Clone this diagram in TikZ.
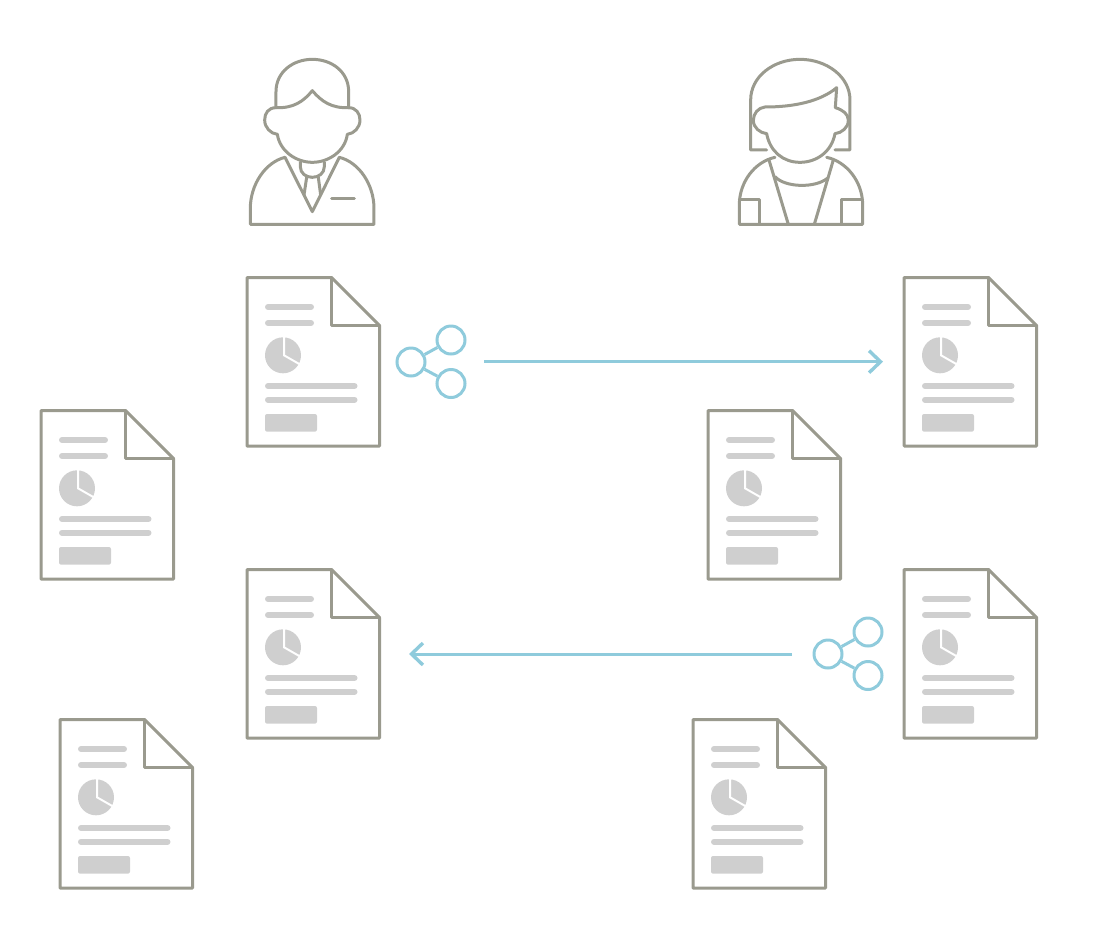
\documentclass[tikz,border=0pt]{standalone}
\usetikzlibrary{arrows.meta}
\definecolor{stroke}{HTML}{9A9A8E}
\definecolor{sharec}{HTML}{8FCBDC}
\definecolor{fillg}{HTML}{CFCFCF}
\tikzset{
  outline/.style={draw=stroke,line width=3pt,line join=round,line cap=round},
  person/.style={draw=stroke,line width=3pt,line join=round,line cap=round},
  textbar/.style={draw=fillg,line width=6pt,line cap=round},
  sharenode/.style={circle,draw=sharec,line width=3pt,minimum size=28pt,inner sep=0pt,fill=white},
  shareline/.style={draw=sharec,line width=3pt},
  flow/.style={draw=sharec,line width=3pt,-{Straight Barb[length=11.5pt,width=22pt,line width=3.4pt]}}
}
\newcommand{\docicon}[2]{%
  \begin{scope}[shift={(#1,#2)}]
    \path[outline] (0,0.5) -- (84.5,0.5) -- (132.5,48.5) -- (132.5,169) -- (0,169) -- cycle;
    \path[outline] (84.5,0.5) -- (84.5,48.5) -- (132.5,48.5);
    \path[textbar] (21,30) -- (64,30);
    \path[textbar] (21,46) -- (64,46);
    \fill[fillg] (36,78.3) circle (18);
    \draw[white,line width=2pt] (37,59) -- (37,78.3) -- (54,88);
    \path[textbar] (21,109) -- (107.5,109);
    \path[textbar] (21,122.7) -- (107.5,122.7);
    \fill[fillg,rounded corners=2pt] (18,137) rectangle (70,154.6);
  \end{scope}}
\newcommand{\shareicon}[3]{%
  \node[sharenode] (#1l) at (#2,#3) {};
  \node[sharenode] (#1t) at (#2+40,#3-22) {};
  \node[sharenode] (#1b) at (#2+40,#3+21.5) {};
  \path[shareline] (#1l) -- (#1t);
  \path[shareline] (#1l) -- (#1b);}
\begin{document}
\begin{tikzpicture}[x=1pt,y=-1pt]
\useasboundingbox (0,0) rectangle (1111,946);
% man
\begin{scope}[shift={(230,45)},x=0.3333pt,y=-0.3333pt]
  \path[person] (138,188) -- (138,140) .. controls (138,80) and (190,43) .. (247,43) .. controls (305,43) and (356,80) .. (356,140) -- (356,188);
  \path[person] (138,188) .. controls (190,190) and (220,170) .. (247,137) .. controls (275,170) and (305,190) .. (356,188);
  \path[person] (138,188) .. controls (115,188) and (104,205) .. (104,225) .. controls (104,248) and (122,266) .. (142,268) .. controls (150,320) and (200,352) .. (247,352) .. controls (295,352) and (345,320) .. (352,268) .. controls (372,266) and (390,248) .. (390,225) .. controls (390,205) and (378,188) .. (356,188);
  \path[person] (165,337) .. controls (105,352) and (61,420) .. (61,490) -- (61,538) -- (432,538) -- (432,490) .. controls (432,420) and (388,352) .. (328,337);
  \path[person] (165,337) -- (247,500) -- (328,337);
  \path[person] (211,352) -- (211,365) .. controls (211,385) and (228,397) .. (247,397) .. controls (266,397) and (283,385) .. (283,365) -- (283,352);
  \path[person] (230,397) -- (222,450);
  \path[person] (265,397) -- (272,450);
  \path[person] (305,462) -- (373,462);
\end{scope}
% woman
\begin{scope}[shift={(720,45)},x=0.3333pt,y=-0.3333pt]
  \path[person] (140,315) -- (92,315) -- (92,165) .. controls (92,95) and (160,43) .. (240,43) .. controls (320,43) and (390,95) .. (390,165) -- (390,315) -- (345,315);
  \path[person] (135,186) .. controls (220,186) and (300,170) .. (350,128) -- (346,188) .. controls (370,195) and (385,208) .. (385,226) .. controls (385,248) and (365,264) .. (345,266) .. controls (335,320) and (290,352) .. (240,352) .. controls (190,352) and (150,320) .. (140,266) .. controls (120,264) and (100,248) .. (100,226) .. controls (100,205) and (115,188) .. (135,186);
  \path[person] (165,337) .. controls (105,350) and (58,410) .. (58,480) -- (58,538) -- (428,538) -- (428,480) .. controls (428,410) and (380,350) .. (320,337);
  \path[person] (58,465) -- (119,465) -- (119,538);
  \path[person] (428,465) -- (365,465) -- (365,538);
  \path[person] (147,345) -- (205,538);
  \path[person] (340,345) -- (283,538);
  \path[person] (165,395) .. controls (195,428) and (285,430) .. (322,400);
\end{scope}
\docicon{247}{277}
\docicon{904}{277}
\docicon{41}{410}
\docicon{708}{410}
\docicon{247}{569}
\docicon{904}{569}
\docicon{60}{719}
\docicon{693}{719}
\shareicon{sa}{411}{362}
\shareicon{sb}{828}{654}
\coordinate (a1) at (484,361.7);
\coordinate (a2) at (883,361.7);
\coordinate (b1) at (792,654);
\coordinate (b2) at (409,654);
\path[flow] (a1) -- (a2);
\path[flow] (b1) -- (b2);
\end{tikzpicture}
\end{document}
